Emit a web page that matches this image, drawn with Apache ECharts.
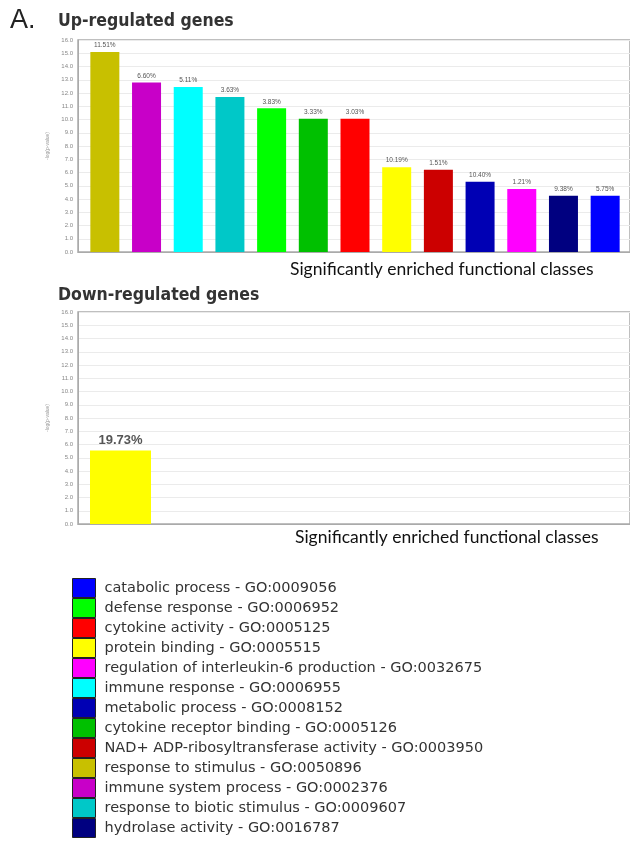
<!DOCTYPE html>
<html>
<head>
<meta charset="UTF-8">
<title>GO enrichment</title>
<script type="text/javascript" src="https://cdn.jsdelivr.net/npm/echarts@6/dist/echarts.min.js"></script>
<style>
  body{margin:0;background:#fff}
</style>
</head>
<body>
<div id="main" style="width:630px;height:845px"></div>
<script type="text/javascript">
// up-regulated bars, left to right
var upNames = ['response to stimulus', 'immune system process', 'immune response', 'response to biotic stimulus',
  'defense response', 'cytokine receptor binding', 'cytokine activity', 'protein binding',
  'NAD+ ADP-ribosyltransferase activity', 'metabolic process', 'regulation of interleukin-6 production',
  'hydrolase activity', 'catabolic process'];
var upValues = [15.1, 12.8, 12.45, 11.7, 10.85, 10.05, 10.05, 6.4, 6.2, 5.3, 4.75, 4.25, 4.25];
var upPct = ['11.51%', '6.60%', '5.11%', '3.63%', '3.83%', '3.33%', '3.03%', '10.19%', '1.51%', '10.40%', '1.21%', '9.38%', '5.75%'];

// down-regulated
var downNames = ['protein binding'];
var downValues = [5.55];
var downPct = ['19.73%'];

var yTicks = [0, 16, 1];

// legend (order as in the key) and colours
var legendNames = ['catabolic process', 'defense response', 'cytokine activity', 'protein binding',
  'regulation of interleukin-6 production', 'immune response', 'metabolic process',
  'cytokine receptor binding', 'NAD+ ADP-ribosyltransferase activity', 'response to stimulus',
  'immune system process', 'response to biotic stimulus', 'hydrolase activity'];
var goIds = ['GO:0009056', 'GO:0006952', 'GO:0005125', 'GO:0005515', 'GO:0032675', 'GO:0006955', 'GO:0008152',
  'GO:0005126', 'GO:0003950', 'GO:0050896', 'GO:0002376', 'GO:0009607', 'GO:0016787'];
var colors = {
  'catabolic process': '#0000ff',
  'defense response': '#00ff00',
  'cytokine activity': '#ff0000',
  'protein binding': '#ffff00',
  'regulation of interleukin-6 production': '#ff00ff',
  'immune response': '#00ffff',
  'metabolic process': '#0000b4',
  'cytokine receptor binding': '#00c000',
  'NAD+ ADP-ribosyltransferase activity': '#cc0000',
  'response to stimulus': '#c8c000',
  'immune system process': '#c800c8',
  'response to biotic stimulus': '#00c8c8',
  'hydrolase activity': '#000080'
};

var myChart = echarts.init(document.getElementById('main'));

function frameY(gi) {
  return {
    type: 'value', gridIndex: gi, min: yTicks[0], max: yTicks[1], interval: yTicks[2],
    name: '-log(p-value)', nameLocation: 'middle', nameGap: 24, nameRotate: 90,
    nameTextStyle: {fontSize: 5, color: '#999', fontFamily: 'Liberation Sans'},
    axisLine: {show: true, lineStyle: {color: '#aaa'}},
    axisTick: {show: false},
    axisLabel: {fontSize: 6, color: '#888', margin: 5, fontFamily: 'Liberation Sans',
      formatter: function (v) { return v.toFixed(1); }},
    splitLine: {lineStyle: {color: '#ebebeb'}}
  };
}
function hiddenY(gi) {
  return {type: 'value', gridIndex: gi, min: yTicks[0], max: yTicks[1], show: false, splitLine: {show: false}};
}

var series = upNames.map(function (n, i) {
  return {
    name: n, type: 'bar', xAxisIndex: 1, yAxisIndex: 1,
    barWidth: 29, barGap: '-100%',
    itemStyle: {color: colors[n]},
    label: {show: true, position: 'top', distance: 3, fontSize: 6.5, color: '#555',
      fontFamily: 'Liberation Sans', formatter: function () { return upPct[i]; }},
    data: upValues.map(function (v, j) { return j === i ? v : '-'; })
  };
});
downNames.forEach(function (n, i) {
  series.push({
    name: n, type: 'bar', xAxisIndex: 3, yAxisIndex: 3, barWidth: 61,
    itemStyle: {color: colors[n]},
    label: {show: true, position: 'top', distance: 4, fontSize: 13, fontWeight: 'bold', color: '#555',
      fontFamily: 'Liberation Sans', formatter: function () { return downPct[i]; }},
    data: [downValues[i]]
  });
});

var option = {
  animation: false,
  title: [
    {text: 'A.', left: 10, top: 7, padding: 0, textStyle: {fontSize: 27, fontWeight: 'normal', color: '#222', fontFamily: 'Liberation Sans'}},
    {text: 'Up-regulated genes', left: 58, top: 12, padding: 0, textStyle: {fontSize: 17.5, fontWeight: 'bold', color: '#333', fontFamily: 'DejaVu Sans Condensed'}},
    {text: 'Down-regulated genes', left: 58, top: 286, padding: 0, textStyle: {fontSize: 17.5, fontWeight: 'bold', color: '#333', fontFamily: 'DejaVu Sans Condensed'}},
    {text: 'Significantly enriched functional classes', left: 290, top: 260, padding: 0, textStyle: {fontSize: 17.5, fontWeight: 'normal', color: '#111', fontFamily: 'Lato'}},
    {text: 'Significantly enriched functional classes', left: 295, top: 528, padding: 0, textStyle: {fontSize: 17.5, fontWeight: 'normal', color: '#111', fontFamily: 'Lato'}}
  ],
  legend: {
    orient: 'vertical', left: 72, top: 578, padding: 0, height: 267,
    itemWidth: 23, itemHeight: 19, itemGap: 0, icon: 'rect',
    textStyle: {fontSize: 14.5, lineHeight: 19, color: '#333', fontFamily: 'DejaVu Sans', padding: [0, 0, 0, 4]},
    formatter: function (n) { return n + ' - ' + goIds[legendNames.indexOf(n)]; },
    data: legendNames.map(function (n) {
      return {name: n, itemStyle: {borderColor: '#222', borderWidth: 1}};
    })
  },
  grid: [
    {left: 78, right: -2, top: 40, height: 212, show: true, borderColor: '#aaa', borderWidth: 1.5},
    {left: 84, width: 542, top: 40, height: 212},
    {left: 78, right: -2, top: 312, height: 212, show: true, borderColor: '#aaa', borderWidth: 1.5},
    {left: 78, width: 85, top: 312, height: 212}
  ],
  xAxis: [
    {type: 'category', gridIndex: 0, data: [''], axisLine: {lineStyle: {color: '#aaa'}}, axisTick: {show: false}, axisLabel: {show: false}},
    {type: 'category', gridIndex: 1, data: upNames, show: false},
    {type: 'category', gridIndex: 2, data: [''], axisLine: {lineStyle: {color: '#aaa'}}, axisTick: {show: false}, axisLabel: {show: false}},
    {type: 'category', gridIndex: 3, data: downNames, show: false}
  ],
  yAxis: [frameY(0), hiddenY(1), frameY(2), hiddenY(3)],
  series: series
};
myChart.setOption(option);
</script>
</body>
</html>
